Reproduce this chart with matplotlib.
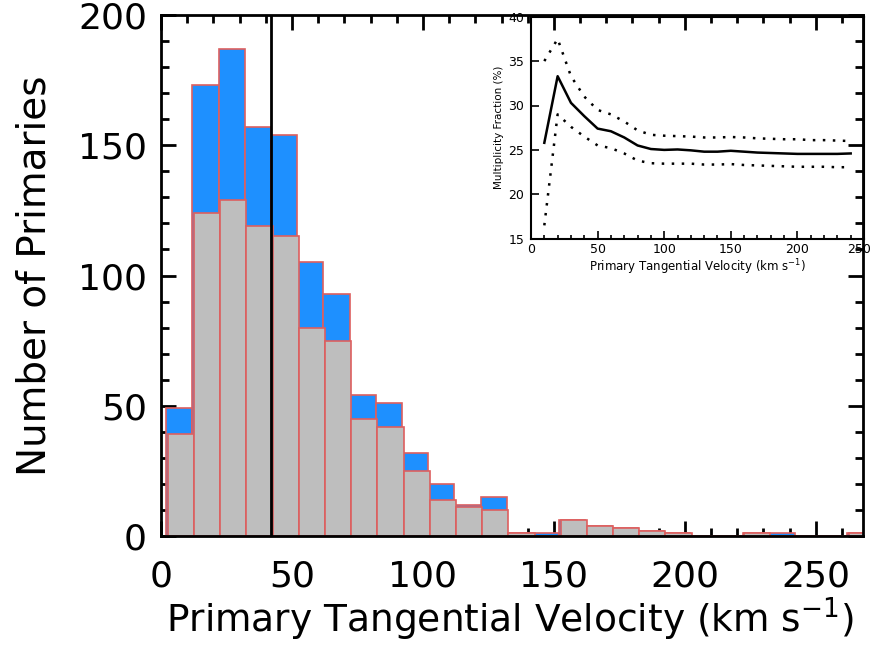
import numpy as np
import matplotlib
matplotlib.use("Agg")
from matplotlib import pyplot as plt
from matplotlib.ticker import MultipleLocator
from matplotlib.transforms import ScaledTranslation

# histogram bins (left edges, km/s) and counts
bin_left = [2, 12, 22, 32, 42, 52, 62, 72, 82, 92, 102, 112, 122, 132,
            142, 152, 162, 172, 182, 192, 202, 212, 222, 232, 242, 252, 262]
all_counts = [49, 173, 187, 157, 154, 105, 93, 54, 51, 32, 20, 12, 15, 1,
              1, 6, 4, 3, 2, 1, 0, 0, 1, 1, 0, 0, 1]
single_counts = [39, 124, 129, 119, 115, 80, 75, 45, 42, 25, 14, 11, 10, 1,
                 0, 6, 4, 3, 2, 1, 0, 0, 1, 0, 0, 0, 1]
median_v = 42

# inset: multiplicity fraction vs velocity
inset_v = [10, 20, 30, 40, 50, 60, 70, 80, 90, 100, 110, 120, 130, 140,
           150, 160, 170, 180, 190, 200, 210, 220, 230, 240]
frac = [25.8, 33.3, 30.3, 28.8, 27.4, 27.1, 26.4, 25.5, 25.1, 25.0, 25.05, 24.95,
        24.8, 24.8, 24.9, 24.8, 24.7, 24.65, 24.6, 24.55, 24.55, 24.55, 24.55, 24.6]
frac_hi = [35.0, 37.5, 33.3, 31.0, 29.5, 29.0, 28.2, 27.2, 26.7, 26.6, 26.55, 26.5,
           26.4, 26.4, 26.45, 26.4, 26.3, 26.25, 26.2, 26.2, 26.1, 26.1, 26.05, 26.0]
frac_lo = [16.5, 29.0, 27.6, 26.5, 25.5, 25.2, 24.6, 23.8, 23.5, 23.45, 23.45, 23.45,
           23.35, 23.35, 23.4, 23.3, 23.25, 23.2, 23.15, 23.1, 23.1, 23.1, 23.05, 23.05]

plt.rcParams['font.family'] = ['DejaVu Sans']
plt.rcParams['mathtext.fontset'] = 'dejavusans'

fig = plt.figure(figsize=(8.72, 6.48), dpi=100)
ax = fig.add_axes([161 / 872, 1 - 536 / 648, 702 / 872, 521 / 648])

edge = '#dd5f5f'
ax.bar(bin_left, all_counts, width=10, align='edge', color='#1e90ff',
       edgecolor=edge, linewidth=1.2, zorder=2)
ax.bar(np.array(bin_left) + 0.6, single_counts, width=10, align='edge', color='#bebebe',
       edgecolor=edge, linewidth=1.2, zorder=3)
ax.axvline(median_v, color='black', linewidth=2, zorder=4)

ax.set_xlim(0, 268)
ax.set_ylim(0, 200)
ax.xaxis.set_major_locator(MultipleLocator(50))
ax.xaxis.set_minor_locator(MultipleLocator(10))
ax.yaxis.set_major_locator(MultipleLocator(50))
ax.yaxis.set_minor_locator(MultipleLocator(10))
ax.tick_params(which='both', direction='in', top=True, right=True, width=2, colors='black')
ax.tick_params(which='major', length=11, labelsize=26, pad=10)
ax.tick_params(axis='x', which='major', pad=17)
ax.tick_params(which='minor', length=6)
for s in ax.spines.values():
    s.set_linewidth(2)
    s.set_zorder(5)
ax.set_ylabel('Number of Primaries', fontsize=28, labelpad=18)
fig.text(510 / 872, 1 - 632 / 648, r'Primary Tangential Velocity (km s$^{-1}$)',
         fontsize=27, ha='center', va='baseline')

# inset panel
ins = fig.add_axes([531 / 872, 1 - 238.7 / 648, 333 / 872, 222 / 648])
ins.set_facecolor('none')
ins.plot(inset_v, frac, color='black', linewidth=1.8)
ins.plot(inset_v, frac_hi, color='black', linewidth=1.8, linestyle=(0, (1, 3)))
ins.plot(inset_v, frac_lo, color='black', linewidth=1.8, linestyle=(0, (1, 3)))
ins.set_xlim(0, 250)
ins.set_ylim(15, 40)
ins.set_xticks([0, 50, 100, 150, 200, 250])
ins.xaxis.set_minor_locator(MultipleLocator(10))
ins.yaxis.set_major_locator(MultipleLocator(5))
ins.tick_params(which='both', direction='in', width=1.2, labelsize=9, pad=5)
ins.tick_params(axis='x', which='major', pad=3)
ins.tick_params(which='major', length=6)
ins.tick_params(which='minor', length=3)
for s in ins.spines.values():
    s.set_linewidth(1.5)
ins.set_xlabel(r'Primary Tangential Velocity (km s$^{-1}$)', fontsize=8.5, labelpad=1)
ins.set_ylabel('Multiplicity Fraction (%)', fontsize=7.5, labelpad=3)

# the last inset label sits on the frame edge; nudge it inside the picture
fig.canvas.draw()
last = ins.get_xticklabels()[-1]
last.set_transform(last.get_transform() + ScaledTranslation(-0.05, 0, fig.dpi_scale_trans))

fig.savefig('out.png', dpi=100)
